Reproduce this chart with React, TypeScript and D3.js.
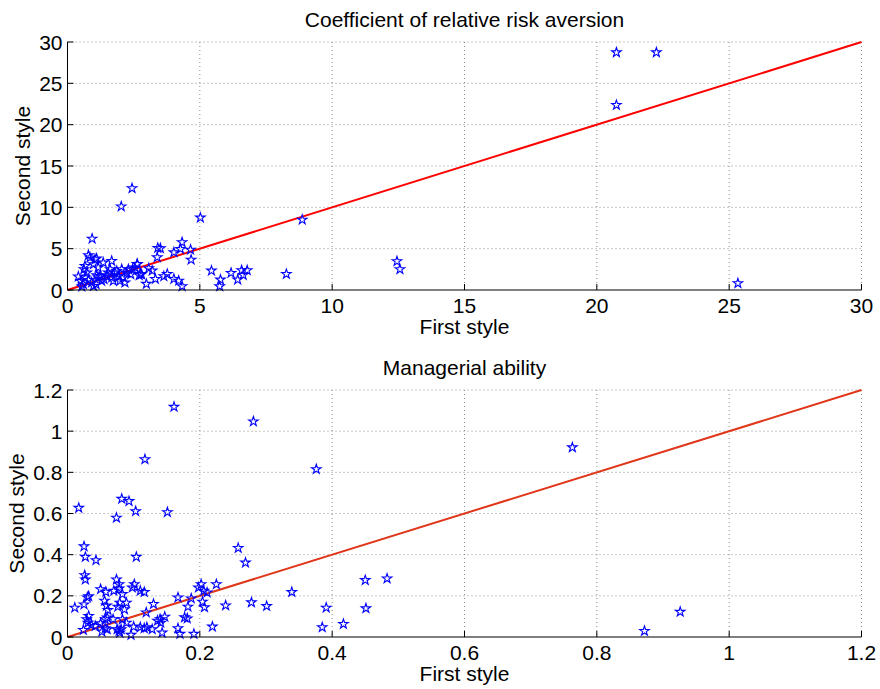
import { useEffect, useRef } from 'react';
import * as d3 from 'd3';

// Coefficient of relative risk aversion: first style vs second style
const riskFirst = [
  0.41, 0.50, 0.60, 0.54, 0.66, 0.79, 0.91, 0.98, 1.08, 1.16, 1.10, 1.23, 1.29, 1.38, 1.48,
  1.54, 1.61, 1.67, 1.73, 1.79, 1.86, 1.92, 1.98, 2.05, 2.11, 2.17, 2.24, 2.30, 2.39, 2.46,
  2.55, 2.64, 2.71, 2.80, 0.79, 0.85, 1.04, 1.10, 0.66, 0.62, 0.98, 1.35, 1.67, 1.16, 0.73,
  0.93, 2.44, 2.03, 5.02, 2.98, 3.32, 3.77, 3.64, 4.02, 4.20, 4.33, 2.63, 3.07, 3.20, 2.76,
  3.41, 3.51, 4.02, 4.27, 4.33, 4.65, 4.67, 3.39, 5.44, 5.78, 5.75, 6.18, 6.43, 6.58, 6.64,
  6.79, 8.27, 8.87, 12.45, 12.56, 20.74, 22.25, 20.74, 25.33
];
const riskSecond = [
  1.62, 1.09, 0.69, 0.41, 1.50, 1.21, 0.89, 0.48, 0.69, 1.50, 1.78, 1.69, 1.09, 1.29, 1.78,
  2.10, 2.50, 1.50, 1.09, 2.10, 2.30, 1.69, 1.09, 2.50, 1.50, 0.89, 2.10, 2.50, 1.90, 2.50,
  2.71, 3.11, 1.78, 1.90, 4.20, 3.92, 3.71, 3.80, 2.90, 2.50, 3.11, 3.31, 3.51, 2.71, 2.10,
  6.20, 12.30, 10.10, 8.75, 0.73, 1.33, 1.93, 1.65, 1.33, 1.12, 0.45, 3.14, 2.62, 2.34, 1.93,
  5.08, 5.04, 4.55, 4.96, 5.77, 4.87, 3.66, 3.95, 2.34, 1.25, 0.44, 2.06, 1.25, 2.38, 1.81,
  2.38, 1.93, 8.50, 3.47, 2.50, 28.74, 28.74, 22.37, 0.81
];

// Managerial ability: first style vs second style
const abilityFirst = [
  0.161, 0.281, 0.117, 0.376, 0.763, 0.017, 0.082, 0.093, 0.074, 0.103, 0.151, 0.025, 0.027, 0.104, 0.043,
  0.258, 0.269, 0.026, 0.027, 0.074, 0.078, 0.078, 0.101, 0.098, 0.110, 0.116, 0.050, 0.058, 0.070, 0.032,
  0.030, 0.011, 0.025, 0.056, 0.059, 0.061, 0.076, 0.079, 0.089, 0.086, 0.083, 0.130, 0.119, 0.167, 0.187,
  0.182, 0.177, 0.181, 0.029, 0.032, 0.031, 0.036, 0.042, 0.024, 0.057, 0.060, 0.069, 0.083, 0.089, 0.050,
  0.052, 0.060, 0.057, 0.075, 0.078, 0.081, 0.079, 0.096, 0.100, 0.110, 0.116, 0.120, 0.128, 0.143, 0.136,
  0.140, 0.141, 0.147, 0.167, 0.170, 0.191, 0.198, 0.202, 0.206, 0.211, 0.225, 0.204, 0.207, 0.239, 0.278,
  0.301, 0.339, 0.391, 0.385, 0.417, 0.450, 0.483, 0.451, 0.219, 0.926, 0.872
];
const abilitySecond = [
  1.118, 1.047, 0.863, 0.815, 0.921, 0.627, 0.671, 0.660, 0.579, 0.611, 0.606, 0.440, 0.389, 0.389, 0.373,
  0.432, 0.361, 0.300, 0.279, 0.279, 0.256, 0.235, 0.256, 0.240, 0.224, 0.218, 0.232, 0.219, 0.224, 0.198,
  0.192, 0.142, 0.158, 0.176, 0.152, 0.131, 0.147, 0.166, 0.166, 0.134, 0.208, 0.160, 0.119, 0.192, 0.187,
  0.147, 0.095, 0.090, 0.086, 0.102, 0.069, 0.058, 0.053, 0.034, 0.086, 0.094, 0.086, 0.086, 0.069, 0.066,
  0.026, 0.037, 0.042, 0.037, 0.030, 0.037, 0.021, 0.010, 0.050, 0.047, 0.042, 0.047, 0.037, 0.021, 0.079,
  0.086, 0.069, 0.098, 0.042, 0.015, 0.015, 0.240, 0.256, 0.224, 0.216, 0.256, 0.171, 0.144, 0.153, 0.168,
  0.150, 0.218, 0.142, 0.047, 0.063, 0.276, 0.284, 0.139, 0.050, 0.122, 0.029
];

const riskTicks = [0, 5, 10, 15, 20, 25, 30];
const abilityTicks = [0, 0.2, 0.4, 0.6, 0.8, 1, 1.2];

const FONT = 'Liberation Sans, Arial, Helvetica, sans-serif';
const FS = 21;

interface PanelSpec {
  title: string;
  xs: number[];
  ys: number[];
  ticks: number[];
  max: number;
  lineColor: string;
  left: number;
  right: number;
  top: number;
  bottom: number;
  ylabelX: number;
}

const panels: PanelSpec[] = [
  {
    title: 'Coefficient of relative risk aversion',
    xs: riskFirst, ys: riskSecond, ticks: riskTicks, max: 30,
    lineColor: '#ff0000',
    left: 67.5, right: 861.5, top: 42, bottom: 290, ylabelX: 30,
  },
  {
    title: 'Managerial ability',
    xs: abilityFirst, ys: abilitySecond, ticks: abilityTicks, max: 1.2,
    lineColor: '#e0361a',
    left: 67.5, right: 861.5, top: 390, bottom: 637, ylabelX: 24,
  },
];

export default function App() {
  const svgRef = useRef<SVGSVGElement>(null);

  useEffect(() => {
    if (!svgRef.current) return;
    const svg = d3.select(svgRef.current);
    svg.selectAll('*').remove();

    svg.append('rect').attr('width', 880).attr('height', 689).attr('fill', '#fff');

    const star = d3.symbol().type(d3.symbolStar).size(28);

    panels.forEach((p) => {
      const x = d3.scaleLinear().domain([0, p.max]).range([p.left, p.right]);
      const y = d3.scaleLinear().domain([0, p.max]).range([p.bottom, p.top]);
      const g = svg.append('g');
      const fmt = (d: number) => String(d);

      // dotted grid
      g.selectAll('.vgrid')
        .data(p.ticks.filter((t) => t > 0))
        .enter()
        .append('line')
        .attr('x1', (d) => x(d)).attr('x2', (d) => x(d))
        .attr('y1', p.top).attr('y2', p.bottom)
        .attr('stroke', '#8c8c8c')
        .attr('stroke-width', 1)
        .attr('stroke-dasharray', '1,3');
      g.selectAll('.hgrid')
        .data(p.ticks.filter((t) => t > 0))
        .enter()
        .append('line')
        .attr('x1', p.left).attr('x2', p.right)
        .attr('y1', (d) => y(d)).attr('y2', (d) => y(d))
        .attr('stroke', '#8c8c8c')
        .attr('stroke-width', 1)
        .attr('stroke-dasharray', '1,3');

      // 45 degree line
      g.append('line')
        .attr('x1', x(0)).attr('y1', y(0))
        .attr('x2', x(p.max)).attr('y2', y(p.max))
        .attr('stroke', p.lineColor)
        .attr('stroke-width', 2);

      // star markers
      g.selectAll('.pt')
        .data(p.xs.map((v, i) => [v, p.ys[i]]))
        .enter()
        .append('path')
        .attr('d', star as any)
        .attr('transform', (d) => `translate(${x(d[0])},${y(d[1])})`)
        .attr('fill', 'none')
        .attr('stroke', '#0000ff')
        .attr('stroke-width', 1.1);

      // axes (left and bottom only)
      g.append('line')
        .attr('x1', p.left).attr('x2', p.right)
        .attr('y1', p.bottom).attr('y2', p.bottom)
        .attr('stroke', '#000').attr('stroke-width', 1);
      g.append('line')
        .attr('x1', p.left).attr('x2', p.left)
        .attr('y1', p.top).attr('y2', p.bottom)
        .attr('stroke', '#000').attr('stroke-width', 1);

      // inward ticks
      g.selectAll('.xtick')
        .data(p.ticks)
        .enter()
        .append('line')
        .attr('x1', (d) => x(d)).attr('x2', (d) => x(d))
        .attr('y1', p.bottom).attr('y2', p.bottom - 6)
        .attr('stroke', '#000');
      g.selectAll('.ytick')
        .data(p.ticks)
        .enter()
        .append('line')
        .attr('x1', p.left).attr('x2', p.left + 6)
        .attr('y1', (d) => y(d)).attr('y2', (d) => y(d))
        .attr('stroke', '#000');

      // tick labels
      g.selectAll('.xlab')
        .data(p.ticks)
        .enter()
        .append('text')
        .attr('x', (d) => x(d))
        .attr('y', p.bottom + 23)
        .attr('text-anchor', 'middle')
        .attr('font-family', FONT)
        .attr('font-size', FS)
        .text(fmt);
      g.selectAll('.ylab')
        .data(p.ticks)
        .enter()
        .append('text')
        .attr('x', p.left - 5)
        .attr('y', (d) => y(d) + 7.5)
        .attr('text-anchor', 'end')
        .attr('font-family', FONT)
        .attr('font-size', FS)
        .text(fmt);

      // title and axis labels
      g.append('text')
        .attr('x', (p.left + p.right) / 2)
        .attr('y', p.top - 15)
        .attr('text-anchor', 'middle')
        .attr('font-family', FONT)
        .attr('font-size', FS)
        .text(p.title);
      g.append('text')
        .attr('x', (p.left + p.right) / 2)
        .attr('y', p.bottom + 44)
        .attr('text-anchor', 'middle')
        .attr('font-family', FONT)
        .attr('font-size', FS)
        .text('First style');
      g.append('text')
        .attr('transform', `translate(${p.ylabelX},${(p.top + p.bottom) / 2}) rotate(-90)`)
        .attr('text-anchor', 'middle')
        .attr('font-family', FONT)
        .attr('font-size', FS)
        .text('Second style');
    });
  }, []);

  return (
    <svg
      ref={svgRef}
      width={880}
      height={689}
      style={{ position: 'absolute', left: 0, top: 0, display: 'block' }}
    />
  );
}
